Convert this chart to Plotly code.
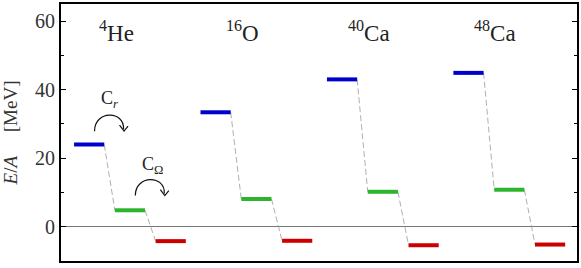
import plotly.graph_objects as go

# ---- data ----
nuclei = ["4He", "16O", "40Ca", "48Ca"]
nucleus_labels = ["<sup>4</sup>He", "<sup>16</sup>O", "<sup>40</sup>Ca", "<sup>48</sup>Ca"]
stage_names = ["initial", "after C_r", "after C_Omega"]
energy_initial = [24.0, 33.4, 43.0, 44.9]
energy_after_cr = [4.8, 8.1, 10.2, 10.8]
energy_after_comega = [-4.2, -4.1, -5.4, -5.2]
stage_colors = ["#0000cd", "#2db42d", "#cc0000"]

y_ticks = [0, 20, 40, 60]

SERIF = "Liberation Serif"
NB = "\u00a0"

# layout parameters (positions, not data)
nucleus_spacing = 3.1
half_w = 0.37

stages = [energy_initial, energy_after_cr, energy_after_comega]

fig = go.Figure()

# dashed connectors
cx, cy = [], []
for i in range(len(nuclei)):
    base = i * nucleus_spacing
    for j in range(len(stages) - 1):
        cx += [base + j + half_w, base + j + 1 - half_w, None]
        cy += [stages[j][i], stages[j + 1][i], None]
fig.add_trace(go.Scatter(x=cx, y=cy, mode="lines",
                         line=dict(color="#9a9a9a", width=0.8, dash="6px,3px"),
                         hoverinfo="skip", showlegend=False))

# level bars
for j, vals in enumerate(stages):
    xs, ys = [], []
    for i, v in enumerate(vals):
        base = i * nucleus_spacing
        xs += [base + j - half_w, base + j + half_w, None]
        ys += [v, v, None]
    fig.add_trace(go.Scatter(x=xs, y=ys, mode="lines",
                             line=dict(color=stage_colors[j], width=4),
                             name=stage_names[j], showlegend=False))

# nucleus labels
for i, lab in enumerate(nucleus_labels):
    fig.add_annotation(x=i * nucleus_spacing + 0.66, y=57.0, text=lab, showarrow=False,
                       font=dict(family=SERIF, size=23, color="#222"),
                       xanchor="center", yanchor="middle")

# curved arrows (C_r between stage 0 and 1, C_Omega between stage 1 and 2 of first nucleus)
arc = "M -15 0 C -15 21, 15 21, 14 2"
head = "M 10 6 L 14.5 0 L 18.5 5"
for j, (lab, dy_arc, dy_lab) in enumerate([("C<sub><i>r</i></sub>", 3.9, 13.0),
                                           ("C<sub>Ω</sub>", 4.3, 13.0)]):
    xa = j + 0.5
    ya = stages[j][0] + dy_arc
    for p in (arc, head):
        fig.add_shape(type="path", xref="x", yref="y", xsizemode="pixel", ysizemode="pixel",
                      xanchor=xa, yanchor=ya, path=p,
                      line=dict(color="#111", width=1.2))
    fig.add_annotation(x=xa + 0.05 * j, y=stages[j][0] + dy_lab, text=lab, showarrow=False,
                       font=dict(family=SERIF, size=18, color="#222"),
                       xanchor="center", yanchor="middle")

fig.update_layout(
    width=581, height=268,
    margin=dict(l=61, r=4, t=2, b=7),
    plot_bgcolor="white", paper_bgcolor="white",
    font=dict(family=SERIF, size=20, color="#333"),
)
fig.update_xaxes(range=[-0.69, 11.96], showticklabels=False, ticks="",
                 showgrid=False, zeroline=False,
                 showline=True, mirror=True, linecolor="black", linewidth=2)
fig.update_yaxes(range=[-10, 65], tickvals=y_ticks, ticks="inside", ticklen=5,
                 tickcolor="black", tickwidth=1.2,
                 minor=dict(ticks="inside", ticklen=3, dtick=10, tickcolor="black", tickwidth=1),
                 showgrid=False, zeroline=True, zerolinecolor="#777", zerolinewidth=1,
                 showline=True, mirror="ticks", linecolor="black", linewidth=2,
                 tickfont=dict(family=SERIF, size=20, color="#333"),
                 title=dict(text="<i>E</i>/<i>A</i>" + NB * 5 + "[MeV]", standoff=14,
                            font=dict(family=SERIF, size=19, color="#333")))

fig.write_html("out.html", config={"displayModeBar": False},
               post_script="document.body.style.margin='0';document.body.style.padding='0';")
